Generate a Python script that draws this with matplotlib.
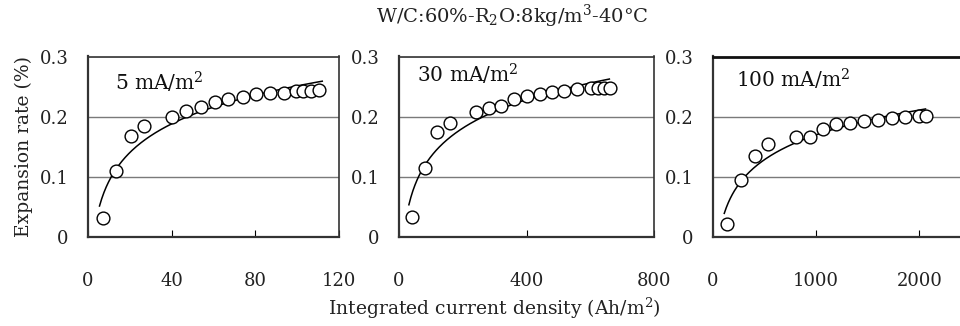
import numpy as np
import matplotlib
matplotlib.use("Agg")
import matplotlib.pyplot as plt

plt.rcParams['font.family'] = ['DejaVu Serif']
plt.rcParams['mathtext.fontset'] = 'custom'
plt.rcParams['mathtext.rm'] = 'DejaVu Serif'
plt.rcParams['mathtext.it'] = 'DejaVu Serif'

# ---- data ----
labels = ["5 mA/m$^{2}$", "30 mA/m$^{2}$", "100 mA/m$^{2}$"]

x1 = [7, 13.5, 20.5, 27, 40, 47, 54, 60.5, 67, 74, 80.5, 87, 93.5, 99.5, 103, 106.5, 110.5]
y1 = [0.032, 0.110, 0.168, 0.184, 0.200, 0.209, 0.216, 0.225, 0.229, 0.232, 0.237,
      0.239, 0.240, 0.242, 0.243, 0.243, 0.244]

x2 = [40, 81, 118, 159, 243, 282, 321, 360, 402, 441, 480, 518, 558, 602, 623, 642, 662]
y2 = [0.033, 0.115, 0.175, 0.189, 0.207, 0.214, 0.218, 0.229, 0.235, 0.237, 0.241,
      0.242, 0.246, 0.248, 0.248, 0.248, 0.248]

x3 = [135, 271, 409, 538, 803, 942, 1070, 1190, 1329, 1460, 1600, 1733, 1863, 1992, 2060]
y3 = [0.022, 0.094, 0.135, 0.154, 0.166, 0.167, 0.179, 0.187, 0.189, 0.192, 0.195,
      0.197, 0.199, 0.201, 0.201]

trend_ranges = [(5.5, 112), (31, 660), (112, 2060)]

x_limits = [120, 800, 2500]
x_ticks = [[0, 40, 80, 120], [0, 400, 800], [0, 1000, 2000]]
y_ticks = [0, 0.1, 0.2, 0.3]
y_ticklabels = ["0", "0.1", "0.2", "0.3"]

title = "W/C:60%-R$_{2}$O:8kg/m$^{3}$-40°C"
xlabel = "Integrated current density (Ah/m$^{2}$)"
ylabel = "Expansion rate (%)"

series = [(x1, y1), (x2, y2), (x3, y3)]

W, H = 960, 326
fig = plt.figure(figsize=(W / 100, H / 100), dpi=100)

panel_px = [(88, 339), (399, 654), (712.7, 971)]
bottom_px, top_px = 237, 56.5
label_pos = [(13, 0.257), (56, 0.270), (225, 0.262)]

for i, ((xs, ys), (l, r)) in enumerate(zip(series, panel_px)):
    ax = fig.add_axes([l / W, 1 - bottom_px / H, (r - l) / W, (bottom_px - top_px) / H])
    ax.set_xlim(0, x_limits[i])
    ax.set_ylim(0, 0.3)
    ax.set_yticks(y_ticks)
    ax.set_yticklabels(y_ticklabels)
    ax.set_xticks(x_ticks[i])
    ax.tick_params(axis='x', direction='in', length=5, width=0.8, pad=25,
                   labelsize=13)
    ax.tick_params(axis='y', length=0, pad=14, labelsize=13)
    for t in ax.get_xticklabels() + ax.get_yticklabels():
        t.set_color('#222222')
    ax.grid(axis='y', color='#7a7a7a', linewidth=1.0)
    ax.set_axisbelow(True)
    for s in ax.spines.values():
        s.set_color('#333333')
        s.set_linewidth(1.2)
    ax.spines['bottom'].set_linewidth(1.6)
    ax.spines['left'].set_linewidth(1.6)
    if i == 2:
        ax.spines['top'].set_color('#111111')
        ax.spines['top'].set_linewidth(2.0)

    # log trend line fitted to the points
    a, b = np.polyfit(np.log(xs), ys, 1)
    tx = np.linspace(trend_ranges[i][0], trend_ranges[i][1], 200)
    ax.plot(tx, a * np.log(tx) + b, color='black', linewidth=1.1, zorder=3)
    ax.plot(xs, ys, linestyle='none', marker='o', markersize=9.2,
            markerfacecolor='white', markeredgecolor='black', markeredgewidth=1.0,
            zorder=4)
    ax.text(label_pos[i][0], label_pos[i][1], labels[i], fontsize=14.5,
            va='center', ha='left', color='#111111')
    if i == 0:
        ax.set_ylabel(ylabel, fontsize=13.5, color='#222222', labelpad=5)

fig.text(512 / W, 1 - 16 / H, title, ha='center', va='center', fontsize=14, color='#222222')
fig.text(494 / W, 1 - 308 / H, xlabel, ha='center', va='center', fontsize=13.5, color='#222222')

fig.savefig("out.png", dpi=100)
